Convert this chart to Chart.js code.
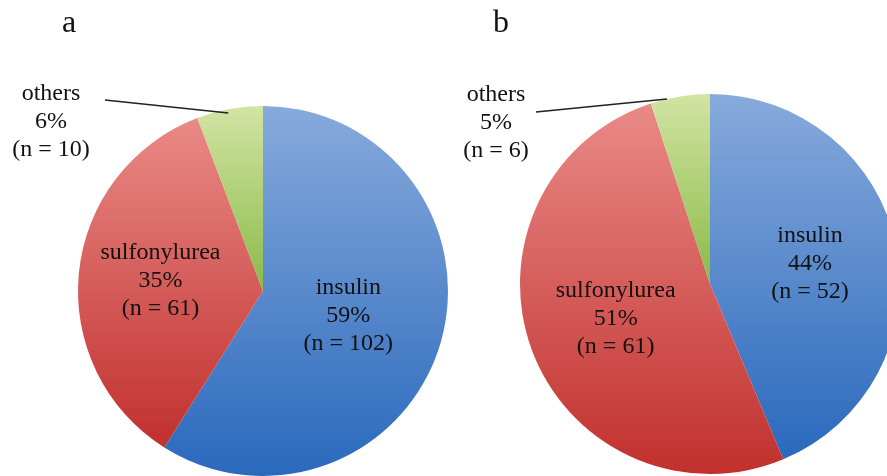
<!DOCTYPE html>
<html>
<head>
<meta charset="utf-8">
<script src="https://cdn.jsdelivr.net/npm/chart.js@4.4.0/dist/chart.umd.min.js"></script>
<style>
  html, body { margin: 0; padding: 0; background: #fff; overflow: hidden; }
  body { width: 887px; height: 476px; position: relative; }
  canvas { position: absolute; top: 0; }
  #pieA { left: 0; }
  #pieB { left: 443px; }
</style>
</head>
<body>
<canvas id="pieA" width="460" height="476"></canvas>
<canvas id="pieB" width="470" height="476"></canvas>
<script>
// drug categories, shared by both panels
const categories = ['insulin', 'sulfonylurea', 'others'];
// patient counts per category
const countsA = [102, 61, 10];
const countsB = [52, 61, 6];
const panelLetters = ['a', 'b'];

// excel-ish vertical gradient, light on top, dark at the bottom
const topColors = ['#87aadb', '#e98a87', '#d2e4a3'];
const bottomColors = ['#2a69bd', '#c1302d', '#89ba48'];

const FONT = '"Liberation Serif", "Times New Roman", serif';

function inRange(a, s, e) {
    return (a >= s && a <= e) || (a + 2 * Math.PI >= s && a + 2 * Math.PI <= e);
}

// gradient spans the vertical extent of each slice
function sliceGradient(context) {
    const chart = context.chart;
    const area = chart.chartArea;
    if (!area) return topColors[context.dataIndex];
    const data = chart.data.datasets[0].data;
    const total = data.reduce((a, b) => a + b, 0);
    let cum = 0;
    for (let k = 0; k < context.dataIndex; k++) cum += data[k];
    const start = -Math.PI / 2 + 2 * Math.PI * cum / total;
    const end = start + 2 * Math.PI * data[context.dataIndex] / total;
    const cx = (area.left + area.right) / 2;
    const cy = (area.top + area.bottom) / 2;
    const r = Math.min(area.right - area.left, area.bottom - area.top) / 2;
    const ys = [cy, cy + r * Math.sin(start), cy + r * Math.sin(end)];
    if (inRange(-Math.PI / 2, start, end)) ys.push(cy - r);
    if (inRange(Math.PI / 2, start, end)) ys.push(cy + r);
    const g = chart.ctx.createLinearGradient(0, Math.min(...ys), 0, Math.max(...ys));
    g.addColorStop(0, topColors[context.dataIndex]);
    g.addColorStop(1, bottomColors[context.dataIndex]);
    return g;
}

const sliceLabels = {
    id: 'sliceLabels',
    afterDatasetsDraw(chart, args, opts) {
        const ctx = chart.ctx;
        const meta = chart.getDatasetMeta(0);
        const data = chart.data.datasets[0].data;
        const total = data.reduce((a, b) => a + b, 0);
        ctx.save();
        ctx.fillStyle = '#111';
        ctx.strokeStyle = '#222';
        ctx.lineWidth = 1.5;
        ctx.textAlign = 'center';
        ctx.textBaseline = 'middle';
        ctx.font = '24px ' + FONT;
        meta.data.forEach((arc, i) => {
            const p = arc.getProps(['x', 'y', 'startAngle', 'endAngle', 'outerRadius'], true);
            const place = opts.place[i];
            const lines = [chart.data.labels[i], Math.round(data[i] / total * 100) + '%', '(n = ' + data[i] + ')'];
            let tx, ty;
            if (place.f !== undefined) {
                const mid = (p.startAngle + p.endAngle) / 2;
                tx = p.x + Math.cos(mid) * p.outerRadius * place.f;
                ty = p.y + Math.sin(mid) * p.outerRadius * place.f;
            } else {
                tx = p.x + place.dx;
                ty = p.y + place.dy;
                const a = p.startAngle + (p.endAngle - p.startAngle) * place.t;
                ctx.beginPath();
                ctx.moveTo(p.x + place.lx, p.y + place.ly);
                ctx.lineTo(p.x + Math.cos(a) * p.outerRadius * place.rr, p.y + Math.sin(a) * p.outerRadius * place.rr);
                ctx.stroke();
            }
            lines.forEach((s, k) => ctx.fillText(s, tx, ty + (k - 1) * 28));
        });
        ctx.font = '32px ' + FONT;
        ctx.textBaseline = 'alphabetic';
        ctx.fillText(opts.letter, opts.letterX, 32);
        ctx.restore();
    }
};

function makePie(id, counts, letter, letterX, padding, place) {
    return new Chart(document.getElementById(id), {
        type: 'pie',
        data: {
            labels: categories,
            datasets: [{
                data: counts,
                backgroundColor: sliceGradient,
                borderWidth: 0,
                hoverOffset: 0
            }]
        },
        options: {
            responsive: false,
            animation: false,
            layout: { padding: padding },
            plugins: {
                legend: { display: false },
                tooltip: { enabled: false },
                sliceLabels: { letter: letter, letterX: letterX, place: place }
            }
        },
        plugins: [sliceLabels]
    });
}

makePie('pieA', countsA, panelLetters[0], 69,
    { left: 78, right: 12, top: 106, bottom: 0 },
    [{ f: 0.48 }, { f: 0.557 }, { dx: -212, dy: -169, lx: -158, ly: -191, t: 0.47, rr: 0.98 }]);

makePie('pieB', countsB, panelLetters[1], 58,
    { left: 77, right: 13, top: 94, bottom: 2 },
    [{ f: 0.537 }, { f: 0.53 }, { dx: -214, dy: -161, lx: -174, ly: -172, t: 0.28, rr: 1.0 }]);
</script>
</body>
</html>
